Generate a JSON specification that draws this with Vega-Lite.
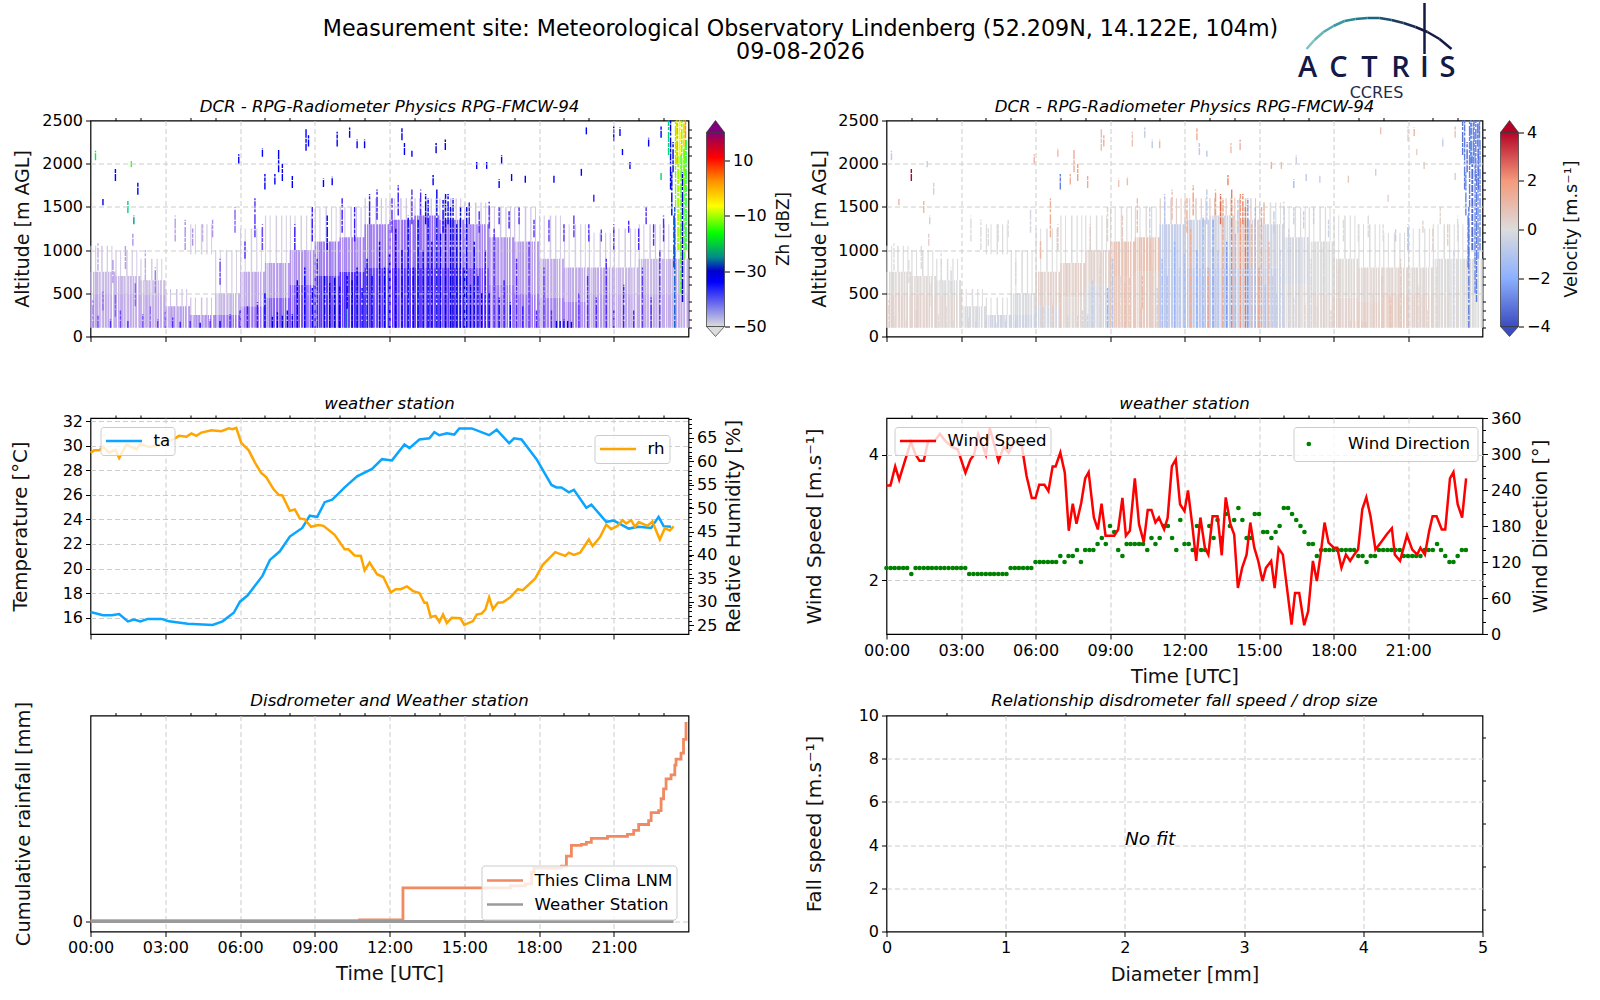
{
"$schema":"https://vega.github.io/schema/vega-lite/v6.json",
"background":"white",
"padding":{"left":9.5,"top":0,"right":10,"bottom":10},
"config":{"view":{"stroke":"black","strokeWidth":1.2},
"font":"DejaVu Sans",
"axis":{"labelFont":"DejaVu Sans","titleFont":"DejaVu Sans","labelFontSize":16,"titleFontSize":19,"titleFontWeight":"normal","labelColor":"black","titleColor":"#111111","tickColor":"black","tickSize":5,"domain":false,"grid":false,"gridColor":"#cccccc","gridDash":[5,3],"gridWidth":1,"labelFlush":false,"labelOverlap":false,"labelBound":false,"labelPadding":3,"format":"d"},
"title":{"font":"DejaVu Sans","fontSize":16.6,"fontStyle":"italic","fontWeight":"normal","color":"black"},
"legend":{"orient":"none","fillColor":"rgba(255,255,255,0.8)","strokeColor":"#cccccc","cornerRadius":3,"padding":4,"labelFont":"DejaVu Sans","labelFontSize":16.6,"labelColor":"black","symbolType":"stroke","symbolStrokeWidth":2.5,"symbolSize":1300,"clipHeight":20,"title":null,"labelOffset":10}},
"datasets":{
"base":[
{"t":0,"u":1,"m":300,"h":400,"z":-46,"v":0.3},{"t":0,"u":1,"m":625,"h":250,"z":-47,"v":0.1},{"t":0,"u":1,"m":900,"h":300,"z":-48.5,"v":0},
{"t":1,"u":2,"m":300,"h":400,"z":-46,"v":0.3},{"t":1,"u":2,"m":600,"h":200,"z":-47,"v":0.1},{"t":1,"u":2,"m":850,"h":300,"z":-48.5,"v":0},
{"t":2,"u":3,"m":290,"h":380,"z":-46,"v":0.2},{"t":2,"u":3,"m":565,"h":170,"z":-47.5,"v":0},{"t":2,"u":3,"m":775,"h":250,"z":-49,"v":0},
{"t":3,"u":4,"m":225,"h":250,"z":-45,"v":-0.1},{"t":3,"u":4,"m":450,"h":200,"z":-48,"v":0},
{"t":4,"u":5,"m":175,"h":150,"z":-44,"v":-0.3},{"t":4,"u":5,"m":350,"h":200,"z":-48,"v":0},{"t":4,"u":5,"m":1125,"h":350,"z":-49,"v":0},
{"t":5,"u":6,"m":175,"h":150,"z":-42,"v":-0.4},{"t":5,"u":6,"m":375,"h":250,"z":-47,"v":-0.1},{"t":5,"u":6,"m":750,"h":500,"z":-49,"v":0},
{"t":6,"u":7,"m":225,"h":250,"z":-42,"v":-0.2},{"t":6,"u":7,"m":550,"h":400,"z":-46,"v":0.3},{"t":6,"u":7,"m":1000,"h":500,"z":-49,"v":0},
{"t":7,"u":8,"m":275,"h":350,"z":-40,"v":0.2},{"t":7,"u":8,"m":650,"h":400,"z":-45,"v":0.4},{"t":7,"u":8,"m":1125,"h":550,"z":-49,"v":0},
{"t":8,"u":9,"m":350,"h":500,"z":-39,"v":-0.2},{"t":8,"u":9,"m":800,"h":400,"z":-44,"v":0.3},{"t":8,"u":9,"m":1200,"h":400,"z":-49,"v":0},
{"t":9,"u":10,"m":400,"h":600,"z":-37,"v":0.6},{"t":9,"u":10,"m":900,"h":400,"z":-42,"v":0.7},{"t":9,"u":10,"m":1300,"h":400,"z":-49,"v":0},
{"t":10,"u":11,"m":425,"h":650,"z":-36,"v":0.5},{"t":10,"u":11,"m":950,"h":400,"z":-43,"v":0.8},{"t":10,"u":11,"m":1325,"h":350,"z":-48,"v":0},
{"t":11,"u":12,"m":450,"h":700,"z":-37,"v":-0.8},{"t":11,"u":12,"m":1050,"h":500,"z":-42,"v":-0.7},{"t":11,"u":12,"m":1450,"h":300,"z":-48,"v":0.4},
{"t":12,"u":13,"m":450,"h":700,"z":-37,"v":-0.9},{"t":12,"u":13,"m":1075,"h":550,"z":-41,"v":-0.5},{"t":12,"u":13,"m":1475,"h":250,"z":-48,"v":0.5},
{"t":13,"u":14,"m":450,"h":700,"z":-37,"v":-0.7},{"t":13,"u":14,"m":1100,"h":600,"z":-41,"v":-0.3},{"t":13,"u":14,"m":1500,"h":200,"z":-48,"v":0.6},
{"t":14,"u":15,"m":450,"h":700,"z":-37,"v":-0.5},{"t":14,"u":15,"m":1075,"h":550,"z":-42,"v":0.3},{"t":14,"u":15,"m":1475,"h":250,"z":-48,"v":0.8},
{"t":15,"u":16,"m":450,"h":700,"z":-39,"v":-0.5},{"t":15,"u":16,"m":1050,"h":500,"z":-43,"v":-0.3},{"t":15,"u":16,"m":1425,"h":250,"z":-48,"v":0},
{"t":16,"u":17,"m":350,"h":500,"z":-42,"v":0.1},{"t":16,"u":17,"m":875,"h":550,"z":-44,"v":-0.2},{"t":16,"u":17,"m":1325,"h":350,"z":-48,"v":0},
{"t":17,"u":18,"m":300,"h":400,"z":-42,"v":0.2},{"t":17,"u":18,"m":800,"h":600,"z":-45,"v":0},{"t":17,"u":18,"m":1300,"h":400,"z":-48,"v":0},
{"t":18,"u":19,"m":275,"h":350,"z":-43,"v":0.3},{"t":18,"u":19,"m":675,"h":450,"z":-46,"v":0.1},{"t":18,"u":19,"m":1150,"h":500,"z":-48.5,"v":0},
{"t":19,"u":20,"m":250,"h":300,"z":-43,"v":0.4},{"t":19,"u":20,"m":600,"h":400,"z":-46,"v":0.2},{"t":19,"u":20,"m":1050,"h":500,"z":-49,"v":0},
{"t":20,"u":21,"m":300,"h":400,"z":-45,"v":0.5},{"t":20,"u":21,"m":650,"h":300,"z":-46,"v":0.2},{"t":20,"u":21,"m":1000,"h":400,"z":-48.5,"v":0},
{"t":21,"u":22,"m":300,"h":400,"z":-46,"v":0.3},{"t":21,"u":22,"m":650,"h":300,"z":-47,"v":0.1},{"t":21,"u":22,"m":1025,"h":450,"z":-48.5,"v":0},
{"t":22,"u":23,"m":300,"h":400,"z":-46,"v":0.1},{"t":22,"u":23,"m":700,"h":400,"z":-47,"v":0},{"t":22,"u":23,"m":1100,"h":400,"z":-48.5,"v":0},
{"t":23,"u":24,"m":300,"h":400,"z":-46,"v":0},{"t":23,"u":24,"m":700,"h":400,"z":-47,"v":0},{"t":23,"u":24,"m":1100,"h":400,"z":-48.5,"v":0}
],
"radar":[
{"t":0.1,"a":100,"b":420,"z":-42,"v":0.4},{"t":0.3,"a":100,"b":250,"z":-38,"v":0.2},{"t":0.5,"a":300,"b":520,"z":-41,"v":0.3},{"t":0.8,"a":100,"b":200,"z":-36,"v":0.3},{"t":1,"a":230,"b":480,"z":-40,"v":0.2},{"t":1.2,"a":100,"b":300,"z":-38,"v":0.3},{"t":1.5,"a":100,"b":180,"z":-36,"v":0.2},{"t":1.8,"a":350,"b":620,"z":-40,"v":0.2},{"t":2.1,"a":100,"b":260,"z":-38,"v":0.1},{"t":2.4,"a":100,"b":350,"z":-41,"v":0.1},{"t":2.7,"a":100,"b":200,"z":-37,"v":0},{"t":3,"a":100,"b":280,"z":-39,"v":-0.1},{"t":3.3,"a":100,"b":220,"z":-36,"v":-0.2},{"t":3.6,"a":100,"b":170,"z":-35,"v":-0.4},{"t":4,"a":100,"b":180,"z":-36,"v":-0.5},{"t":4.4,"a":100,"b":160,"z":-34,"v":-0.5},{"t":4.8,"a":100,"b":200,"z":-36,"v":-0.5},{"t":5.2,"a":100,"b":180,"z":-34,"v":-0.6},{"t":5.6,"a":100,"b":260,"z":-36,"v":-0.4},{"t":6,"a":100,"b":300,"z":-36,"v":-0.3},{"t":6.3,"a":100,"b":350,"z":-35,"v":0.5},{"t":6.7,"a":100,"b":400,"z":-35,"v":0.6},{"t":7,"a":100,"b":500,"z":-34,"v":0.7},
{"t":0.3,"a":760,"b":1080,"z":-46,"v":0},{"t":0.9,"a":620,"b":900,"z":-44,"v":0},{"t":1.4,"a":780,"b":1050,"z":-45,"v":0},{"t":1.7,"a":1050,"b":1200,"z":-44,"v":0.3},{"t":2.2,"a":640,"b":1000,"z":-46,"v":0},{"t":2.6,"a":500,"b":800,"z":-42,"v":-0.2},{"t":3.4,"a":1100,"b":1400,"z":-45,"v":0},{"t":3.8,"a":1000,"b":1350,"z":-44,"v":0},{"t":4.1,"a":1050,"b":1250,"z":-44,"v":0},{"t":4.5,"a":1100,"b":1300,"z":-46,"v":0},{"t":4.9,"a":1150,"b":1350,"z":-44,"v":0},{"t":5.2,"a":600,"b":900,"z":-38,"v":0.2},{"t":5.8,"a":1200,"b":1500,"z":-40,"v":-0.2},{"t":6.2,"a":900,"b":1100,"z":-36,"v":1.2},{"t":6.6,"a":1150,"b":1600,"z":-36,"v":1.4},{"t":6.9,"a":1000,"b":1300,"z":-38,"v":0.8},
{"t":0.2,"a":2040,"b":2150,"z":-18,"v":-0.8},{"t":1.64,"a":1960,"b":2030,"z":-16,"v":-0.6},{"t":0.5,"a":1520,"b":1590,"z":-32,"v":1.2},{"t":1.5,"a":1430,"b":1570,"z":-20,"v":1.1},{"t":1.74,"a":1300,"b":1400,"z":-24,"v":-0.5},{"t":1.9,"a":1640,"b":1780,"z":-33,"v":-0.4},{"t":1,"a":1800,"b":1950,"z":-33,"v":4},{"t":8.65,"a":2150,"b":2400,"z":-34,"v":0.9},{"t":8.75,"a":2200,"b":2330,"z":-34,"v":1.4},{"t":9.9,"a":2200,"b":2370,"z":-33,"v":0.8},{"t":10.4,"a":2300,"b":2420,"z":-33,"v":-0.7},{"t":6.9,"a":2080,"b":2180,"z":-34,"v":1.1},{"t":5.95,"a":2000,"b":2110,"z":-34,"v":1.2},{"t":7.55,"a":1900,"b":2160,"z":-33,"v":1.5},{"t":7.7,"a":1800,"b":2000,"z":-33,"v":1.8},{"t":7,"a":1700,"b":1880,"z":-33,"v":-3},{"t":7.4,"a":1760,"b":1880,"z":-33,"v":1.4},{"t":8.1,"a":1720,"b":1870,"z":-33,"v":1.6},{"t":9.35,"a":1730,"b":1830,"z":-33,"v":0.7},{"t":9.7,"a":1750,"b":1850,"z":-33,"v":1},{"t":10.7,"a":2180,"b":2280,"z":-34,"v":-0.8},{"t":11,"a":2180,"b":2280,"z":-34,"v":1.2},{"t":12.5,"a":2270,"b":2420,"z":-33,"v":1.5},{"t":12.6,"a":2100,"b":2240,"z":-33,"v":-0.9},{"t":12.9,"a":2080,"b":2150,"z":-34,"v":-1},{"t":13.87,"a":2120,"b":2240,"z":-30,"v":1},{"t":14.24,"a":2160,"b":2280,"z":-33,"v":1.3},{"t":13.75,"a":1750,"b":1870,"z":-33,"v":2.4},{"t":16.5,"a":2000,"b":2100,"z":-34,"v":-0.6},{"t":15.5,"a":1940,"b":2020,"z":-34,"v":1.6},{"t":15.9,"a":1940,"b":2020,"z":-34,"v":1},{"t":19.9,"a":2340,"b":2420,"z":-34,"v":0.8},{"t":21,"a":2260,"b":2430,"z":-33,"v":0.4},{"t":21.25,"a":2320,"b":2420,"z":-34,"v":1.2},{"t":21.35,"a":2100,"b":2170,"z":-34,"v":0.4},{"t":22.4,"a":2200,"b":2300,"z":-33,"v":-0.7},{"t":22.9,"a":2300,"b":2430,"z":-34,"v":0.8},{"t":21.65,"a":1940,"b":2020,"z":-34,"v":0.5},{"t":22.9,"a":1810,"b":1900,"z":-20,"v":-0.5},{"t":16.9,"a":1800,"b":1880,"z":-34,"v":-0.8},{"t":17.45,"a":1780,"b":1870,"z":-34,"v":-0.6},{"t":16.4,"a":1720,"b":1820,"z":-34,"v":-1.5},{"t":20.2,"a":1560,"b":1650,"z":-35,"v":0.3},{"t":18.6,"a":1780,"b":1870,"z":-34,"v":0.6},{"t":19.7,"a":1860,"b":1940,"z":-34,"v":-0.5},
{"t":7.3,"a":100,"b":230,"z":-31,"v":-0.3},{"t":7.5,"a":100,"b":280,"z":-31,"v":0.1},{"t":7.7,"a":100,"b":250,"z":-31,"v":0.3},{"t":7.9,"a":100,"b":300,"z":-32,"v":-0.2},{"t":8.1,"a":100,"b":260,"z":-32,"v":-0.4},
{"t":8.3,"a":100,"b":650,"z":-33,"v":-0.6},{"t":8.6,"a":100,"b":800,"z":-34,"v":0.4},{"t":8.9,"a":100,"b":560,"z":-33,"v":-1.8},{"t":9.1,"a":100,"b":900,"z":-35,"v":-1},{"t":9.4,"a":100,"b":700,"z":-33,"v":0.3},
{"t":9.6,"a":100,"b":620,"z":-31,"v":0.9},{"t":9.8,"a":100,"b":680,"z":-31,"v":0.7},{"t":10,"a":100,"b":580,"z":-30,"v":0.6},{"t":10.25,"a":100,"b":320,"z":-25,"v":1},{"t":10.3,"a":320,"b":700,"z":-32,"v":1},{"t":10.5,"a":100,"b":650,"z":-31,"v":0.4},{"t":10.7,"a":100,"b":800,"z":-32,"v":0.5},{"t":10.9,"a":100,"b":560,"z":-33,"v":-0.5},
{"t":11.1,"a":100,"b":900,"z":-34,"v":-1.5},{"t":11.3,"a":100,"b":700,"z":-33,"v":-1.2},{"t":11.6,"a":100,"b":1100,"z":-33,"v":-1.8},{"t":11.8,"a":100,"b":800,"z":-34,"v":-0.8},{"t":12,"a":100,"b":950,"z":-33,"v":-1.5},{"t":12.25,"a":100,"b":1250,"z":-34,"v":1.4},{"t":12.5,"a":100,"b":1000,"z":-33,"v":-2},{"t":12.75,"a":100,"b":1400,"z":-34,"v":-1.6},{"t":12.95,"a":100,"b":800,"z":-32,"v":1.8},{"t":13.15,"a":100,"b":1350,"z":-33,"v":-2.2},{"t":13.35,"a":100,"b":1000,"z":-33,"v":-1},{"t":13.55,"a":100,"b":1600,"z":-33,"v":1.8},{"t":13.7,"a":100,"b":1100,"z":-32,"v":-2.4},{"t":13.9,"a":100,"b":1700,"z":-32,"v":2.4},{"t":14.05,"a":100,"b":1200,"z":-33,"v":-1.5},{"t":14.25,"a":100,"b":1650,"z":-33,"v":2},{"t":14.45,"a":100,"b":1500,"z":-31,"v":2.6},{"t":14.55,"a":100,"b":1600,"z":-31,"v":-2.5},{"t":14.7,"a":100,"b":1300,"z":-32,"v":1.2},{"t":14.85,"a":100,"b":1500,"z":-31,"v":-1.5},{"t":15,"a":100,"b":800,"z":-31,"v":2},{"t":15.1,"a":100,"b":1500,"z":-32,"v":1.6},{"t":15.25,"a":100,"b":600,"z":-31,"v":-1.3},{"t":15.4,"a":100,"b":1100,"z":-33,"v":1.2},{"t":15.55,"a":100,"b":700,"z":-33,"v":-0.6},{"t":15.7,"a":100,"b":500,"z":-33,"v":-0.6},{"t":15.85,"a":100,"b":1000,"z":-35,"v":-0.5},{"t":16,"a":100,"b":500,"z":-34,"v":-0.4},{"t":16.2,"a":100,"b":1250,"z":-36,"v":-0.4},{"t":16.4,"a":100,"b":450,"z":-34,"v":-0.3},{"t":16.6,"a":100,"b":650,"z":-35,"v":-0.3},{"t":16.85,"a":100,"b":400,"z":-34,"v":0.2},{"t":17.1,"a":100,"b":900,"z":-36,"v":-0.3},{"t":17.35,"a":100,"b":350,"z":-35,"v":0.2},{"t":17.6,"a":100,"b":1100,"z":-37,"v":-0.3},{"t":17.9,"a":100,"b":300,"z":-36,"v":0.3},{"t":18.2,"a":100,"b":800,"z":-37,"v":0.3},{"t":18.5,"a":100,"b":300,"z":-36,"v":0.3},{"t":18.7,"a":100,"b":180,"z":-32,"v":0.4},{"t":18.85,"a":100,"b":180,"z":-32,"v":0.4},{"t":19,"a":100,"b":200,"z":-32,"v":0.5},{"t":19.15,"a":100,"b":180,"z":-33,"v":0.5},{"t":19.3,"a":100,"b":170,"z":-33,"v":0.5},{"t":19.6,"a":100,"b":500,"z":-37,"v":0.5},{"t":19.95,"a":100,"b":700,"z":-36,"v":0.6},{"t":20.3,"a":100,"b":450,"z":-36,"v":0.7},{"t":20.7,"a":100,"b":900,"z":-36,"v":0.5},{"t":21,"a":100,"b":300,"z":-36,"v":0.3},{"t":21.4,"a":100,"b":600,"z":-35,"v":0.3},{"t":21.8,"a":100,"b":300,"z":-36,"v":0.2},{"t":22.15,"a":100,"b":800,"z":-37,"v":0.2},{"t":22.5,"a":100,"b":450,"z":-36,"v":0.1},{"t":22.85,"a":100,"b":1000,"z":-36,"v":-0.4},
{"t":8.2,"a":1000,"b":1300,"z":-35,"v":0.5},{"t":8.9,"a":1100,"b":1500,"z":-35,"v":0.4},{"t":9.5,"a":1000,"b":1400,"z":-34,"v":0.6},{"t":10.1,"a":1200,"b":1600,"z":-35,"v":0.9},{"t":10.6,"a":1100,"b":1500,"z":-35,"v":-0.4},{"t":11.2,"a":1300,"b":1650,"z":-35,"v":-1},{"t":11.5,"a":1350,"b":1700,"z":-35,"v":0.9},{"t":12.1,"a":1200,"b":1600,"z":-36,"v":1.4},{"t":12.35,"a":1400,"b":1750,"z":-35,"v":1.8},{"t":12.9,"a":1300,"b":1700,"z":-36,"v":-0.8},{"t":13.25,"a":1400,"b":1700,"z":-36,"v":1.9},{"t":13.45,"a":1300,"b":1650,"z":-34,"v":2.8},{"t":14.15,"a":1200,"b":1580,"z":-34,"v":-0.9},{"t":14.35,"a":1300,"b":1650,"z":-33,"v":2.4},{"t":15.2,"a":1300,"b":1550,"z":-35,"v":1},{"t":15.6,"a":1200,"b":1450,"z":-36,"v":-0.7},{"t":16,"a":1250,"b":1560,"z":-36,"v":-0.5},{"t":16.4,"a":1300,"b":1500,"z":-36,"v":-0.5},{"t":16.8,"a":1250,"b":1450,"z":-35,"v":-0.6},{"t":17.2,"a":1300,"b":1500,"z":-36,"v":-0.5},{"t":17.8,"a":1150,"b":1350,"z":-36,"v":-0.4},{"t":18.4,"a":1100,"b":1350,"z":-37,"v":0},{"t":19,"a":1100,"b":1300,"z":-37,"v":0},{"t":19.4,"a":1150,"b":1400,"z":-37,"v":0},{"t":20,"a":1100,"b":1300,"z":-36,"v":0},{"t":20.5,"a":1100,"b":1250,"z":-37,"v":-0.7},{"t":21,"a":1000,"b":1300,"z":-36,"v":-1.5},{"t":21.6,"a":1200,"b":1350,"z":-36,"v":0.3},{"t":22,"a":1000,"b":1250,"z":-36,"v":0.3},{"t":22.3,"a":1300,"b":1500,"z":-36,"v":0.2},{"t":22.6,"a":1050,"b":1300,"z":-36,"v":0.4},{"t":23,"a":1100,"b":1400,"z":-36,"v":0},
{"t":23.2,"a":2100,"b":2500,"z":-20,"v":-3.2},{"t":23.28,"a":1700,"b":2500,"z":-32,"v":-3},{"t":23.33,"a":1400,"b":1900,"z":-32,"v":-2.8},{"t":23.38,"a":1900,"b":2250,"z":-31,"v":-3.4},{"t":23.42,"a":800,"b":1400,"z":-30,"v":-3},{"t":23.45,"a":100,"b":1500,"z":-28,"v":-3.2},{"t":23.48,"a":1500,"b":2500,"z":-14,"v":-3},{"t":23.52,"a":2000,"b":2500,"z":-10,"v":-2.6},{"t":23.55,"a":2000,"b":2500,"z":0,"v":-2.8},{"t":23.58,"a":1000,"b":2100,"z":-14,"v":-3},{"t":23.6,"a":1000,"b":2000,"z":-12,"v":-3.4},{"t":23.63,"a":2000,"b":2500,"z":-8,"v":-2.8},{"t":23.66,"a":2100,"b":2500,"z":-6,"v":-3},{"t":23.7,"a":500,"b":2100,"z":-16,"v":-2.7},{"t":23.73,"a":1800,"b":2500,"z":-14,"v":-3},{"t":23.76,"a":400,"b":1900,"z":-31,"v":-3},{"t":23.8,"a":2200,"b":2500,"z":-4,"v":-2.9},{"t":23.82,"a":900,"b":2200,"z":-16,"v":-2.7},{"t":23.84,"a":1700,"b":2200,"z":-14,"v":-3.2},{"t":23.86,"a":2200,"b":2500,"z":-2,"v":-3},{"t":23.88,"a":2300,"b":2500,"z":2,"v":-3},{"t":23.9,"a":1000,"b":2300,"z":-17,"v":-2.8}
],
"met":[
{"t":0,"ta":16.46},{"t":0.5,"ta":16.2},{"t":0.85,"ta":16.2},{"t":1.15,"ta":16.3},{"t":1.5,"ta":15.7},{"t":1.75,"ta":15.85},{"t":2,"ta":15.7},{"t":2.3,"ta":15.9},{"t":2.85,"ta":15.9},{"t":3.15,"ta":15.7},{"t":3.9,"ta":15.5},{"t":4.9,"ta":15.4},{"t":5.3,"ta":15.7},{"t":5.75,"ta":16.4},{"t":6,"ta":17.3},{"t":6.3,"ta":17.8},{"t":6.6,"ta":18.6},{"t":6.9,"ta":19.4},{"t":7.2,"ta":20.7},{"t":7.6,"ta":21.4},{"t":8,"ta":22.6},{"t":8.5,"ta":23.3},{"t":8.8,"ta":24.3},{"t":9.1,"ta":24.2},{"t":9.4,"ta":25.4},{"t":9.7,"ta":25.6},{"t":9.9,"ta":26},{"t":10.2,"ta":26.6},{"t":10.7,"ta":27.5},{"t":11.3,"ta":28.1},{"t":11.7,"ta":28.9},{"t":12.1,"ta":28.8},{"t":12.6,"ta":30.1},{"t":12.8,"ta":29.8},{"t":13.2,"ta":30.5},{"t":13.6,"ta":30.6},{"t":13.8,"ta":31.1},{"t":14,"ta":30.85},{"t":14.3,"ta":31},{"t":14.6,"ta":30.9},{"t":14.8,"ta":31.4},{"t":15.3,"ta":31.4},{"t":16,"ta":30.85},{"t":16.3,"ta":31.3},{"t":16.8,"ta":30.2},{"t":17,"ta":30.6},{"t":17.3,"ta":30.5},{"t":17.9,"ta":28.9},{"t":18.5,"ta":26.8},{"t":18.7,"ta":26.6},{"t":18.9,"ta":26.6},{"t":19.2,"ta":26.2},{"t":19.4,"ta":26.4},{"t":19.9,"ta":24.95},{"t":20.1,"ta":25.2},{"t":20.7,"ta":23.8},{"t":21,"ta":23.9},{"t":21.6,"ta":23.25},{"t":22,"ta":23.4},{"t":22.5,"ta":23.3},{"t":22.8,"ta":24.2},{"t":23,"ta":23.45},{"t":23.3,"ta":23.4}
],
"hum":[
{"t":0,"rh":61.8},{"t":0.15,"rh":62.3},{"t":0.35,"rh":62.3},{"t":0.5,"rh":63.1},{"t":0.75,"rh":61.8},{"t":1,"rh":62.4},{"t":1.15,"rh":60.7},{"t":1.45,"rh":63.6},{"t":1.6,"rh":63.1},{"t":1.85,"rh":62.5},{"t":2,"rh":63.7},{"t":2.35,"rh":63},{"t":2.75,"rh":63.4},{"t":3.05,"rh":64.4},{"t":3.25,"rh":64.4},{"t":3.55,"rh":65.4},{"t":3.85,"rh":65.2},{"t":4.05,"rh":65.9},{"t":4.25,"rh":65.4},{"t":4.45,"rh":66.1},{"t":4.85,"rh":66.6},{"t":5.25,"rh":66.4},{"t":5.55,"rh":67},{"t":5.7,"rh":66.8},{"t":5.85,"rh":67.1},{"t":6.05,"rh":63.9},{"t":6.35,"rh":62.3},{"t":6.6,"rh":59.7},{"t":6.85,"rh":57.5},{"t":7.05,"rh":56.6},{"t":7.35,"rh":54},{"t":7.55,"rh":52.8},{"t":7.7,"rh":52.7},{"t":8,"rh":49.4},{"t":8.2,"rh":49.7},{"t":8.4,"rh":47.8},{"t":8.6,"rh":47.6},{"t":8.85,"rh":46},{"t":9.15,"rh":46.4},{"t":9.35,"rh":46.2},{"t":9.8,"rh":44.3},{"t":10.2,"rh":41.2},{"t":10.35,"rh":41.2},{"t":10.6,"rh":39.9},{"t":10.85,"rh":39.8},{"t":11,"rh":36.7},{"t":11.2,"rh":38.4},{"t":11.5,"rh":35.9},{"t":11.75,"rh":35.3},{"t":12.05,"rh":32},{"t":12.25,"rh":32.7},{"t":12.45,"rh":32.7},{"t":12.7,"rh":33.3},{"t":12.95,"rh":32.3},{"t":13.2,"rh":31.9},{"t":13.4,"rh":29.8},{"t":13.5,"rh":29.8},{"t":13.65,"rh":26.8},{"t":13.85,"rh":27},{"t":14,"rh":25.7},{"t":14.15,"rh":27.3},{"t":14.3,"rh":25.5},{"t":14.5,"rh":26.6},{"t":14.85,"rh":26.5},{"t":15,"rh":25.1},{"t":15.35,"rh":25.9},{"t":15.5,"rh":27.3},{"t":15.7,"rh":27.5},{"t":15.85,"rh":28.4},{"t":16,"rh":31},{"t":16.15,"rh":28.4},{"t":16.35,"rh":29.8},{"t":16.55,"rh":29.9},{"t":16.85,"rh":31},{"t":17.15,"rh":32.7},{"t":17.35,"rh":32.5},{"t":17.85,"rh":35},{"t":18.15,"rh":37.9},{"t":18.65,"rh":40.6},{"t":19.05,"rh":39.8},{"t":19.2,"rh":40.5},{"t":19.4,"rh":40},{"t":19.65,"rh":40.5},{"t":20,"rh":43.3},{"t":20.15,"rh":41.9},{"t":20.45,"rh":43.8},{"t":20.7,"rh":46.5},{"t":20.9,"rh":45.5},{"t":21.15,"rh":46.2},{"t":21.35,"rh":47.4},{"t":21.5,"rh":46.7},{"t":21.7,"rh":47.4},{"t":21.85,"rh":46},{"t":22,"rh":47},{"t":22.35,"rh":46.2},{"t":22.55,"rh":47.1},{"t":22.85,"rh":43.3},{"t":23.05,"rh":45.7},{"t":23.25,"rh":45.2},{"t":23.4,"rh":46.1}
],
"ws":[
{"t":0,"s":3.51},{"t":0.16,"s":3.51},{"t":0.35,"s":3.81},{"t":0.51,"s":3.6},{"t":0.72,"s":3.87},{"t":0.98,"s":4.2},{"t":1.17,"s":4},{"t":1.33,"s":3.9},{"t":1.5,"s":3.9},{"t":1.68,"s":4.22},{"t":1.95,"s":4.22},{"t":2.15,"s":4.33},{"t":2.36,"s":4.22},{"t":2.63,"s":4.12},{"t":2.87,"s":4.08},{"t":3.18,"s":3.71},{"t":3.38,"s":3.92},{"t":3.53,"s":4},{"t":3.69,"s":4.32},{"t":4,"s":4},{"t":4.16,"s":4.42},{"t":4.51,"s":3.9},{"t":4.72,"s":4.12},{"t":4.92,"s":4.03},{"t":5.13,"s":4.21},{"t":5.44,"s":4.16},{"t":5.64,"s":3.66},{"t":5.85,"s":3.31},{"t":6,"s":3.31},{"t":6.15,"s":3.52},{"t":6.36,"s":3.52},{"t":6.52,"s":3.42},{"t":6.69,"s":3.81},{"t":6.81,"s":3.81},{"t":7,"s":4.03},{"t":7.18,"s":3.71},{"t":7.34,"s":2.79},{"t":7.5,"s":3.22},{"t":7.65,"s":2.9},{"t":7.84,"s":3.23},{"t":8,"s":3.62},{"t":8.14,"s":3.72},{"t":8.35,"s":3},{"t":8.51,"s":2.81},{"t":8.66,"s":3.22},{"t":8.82,"s":2.71},{"t":9.17,"s":2.71},{"t":9.33,"s":2.81},{"t":9.5,"s":3.31},{"t":9.64,"s":2.71},{"t":9.8,"s":2.79},{"t":10,"s":3.62},{"t":10.17,"s":2.89},{"t":10.36,"s":2.61},{"t":10.52,"s":3.12},{"t":10.67,"s":3.12},{"t":10.83,"s":2.92},{"t":10.97,"s":3},{"t":11.18,"s":2.81},{"t":11.32,"s":2.99},{"t":11.49,"s":3.81},{"t":11.65,"s":3.92},{"t":11.82,"s":3.21},{"t":12,"s":3.1},{"t":12.14,"s":3.43},{"t":12.31,"s":2.89},{"t":12.47,"s":2.31},{"t":12.64,"s":3},{"t":12.82,"s":2.52},{"t":12.96,"s":2.41},{"t":13.13,"s":3.02},{"t":13.33,"s":3.02},{"t":13.5,"s":2.4},{"t":13.66,"s":3.32},{"t":13.85,"s":2.89},{"t":14,"s":2.73},{"t":14.15,"s":1.88},{"t":14.32,"s":2.2},{"t":14.5,"s":2.41},{"t":14.65,"s":2.92},{"t":14.81,"s":2.52},{"t":14.97,"s":2.31},{"t":15.14,"s":1.99},{"t":15.28,"s":2.2},{"t":15.49,"s":2.31},{"t":15.63,"s":1.88},{"t":15.79,"s":2.51},{"t":15.96,"s":2.41},{"t":16.31,"s":1.3},{"t":16.45,"s":1.8},{"t":16.62,"s":1.8},{"t":16.82,"s":1.29},{"t":16.98,"s":1.51},{"t":17.17,"s":2.31},{"t":17.33,"s":1.99},{"t":17.48,"s":2.41},{"t":17.64,"s":2.92},{"t":17.8,"s":2.6},{"t":18.01,"s":2.52},{"t":18.15,"s":2.52},{"t":18.32,"s":2.2},{"t":18.5,"s":2.41},{"t":18.67,"s":2.31},{"t":18.83,"s":2.41},{"t":18.99,"s":2.49},{"t":19.16,"s":3.13},{"t":19.32,"s":3.32},{"t":19.49,"s":3.02},{"t":19.69,"s":2.49},{"t":19.9,"s":2.6},{"t":20.14,"s":2.73},{"t":20.35,"s":2.83},{"t":20.47,"s":2.41},{"t":20.68,"s":2.31},{"t":20.96,"s":2.72},{"t":21.17,"s":2.49},{"t":21.37,"s":2.41},{"t":21.5,"s":2.52},{"t":21.68,"s":2.41},{"t":21.85,"s":2.78},{"t":21.99,"s":3.02},{"t":22.15,"s":3.02},{"t":22.36,"s":2.81},{"t":22.5,"s":2.81},{"t":22.69,"s":3.62},{"t":22.83,"s":3.72},{"t":23,"s":3.21},{"t":23.18,"s":3},{"t":23.34,"s":3.62}
],
"wd":[
{"t":0,"d":110},{"t":0.17,"d":110},{"t":0.33,"d":110},{"t":0.5,"d":110},{"t":0.67,"d":110},{"t":0.83,"d":110},{"t":1,"d":100},{"t":1.17,"d":110},{"t":1.33,"d":110},{"t":1.5,"d":110},{"t":1.67,"d":110},{"t":1.83,"d":110},{"t":2,"d":110},{"t":2.17,"d":110},{"t":2.33,"d":110},{"t":2.5,"d":110},{"t":2.67,"d":110},{"t":2.83,"d":110},{"t":3,"d":110},{"t":3.17,"d":110},{"t":3.33,"d":100},{"t":3.5,"d":100},{"t":3.67,"d":100},{"t":3.83,"d":100},{"t":4,"d":100},{"t":4.17,"d":100},{"t":4.33,"d":100},{"t":4.5,"d":100},{"t":4.67,"d":100},{"t":4.83,"d":100},{"t":5,"d":110},{"t":5.17,"d":110},{"t":5.33,"d":110},{"t":5.5,"d":110},{"t":5.67,"d":110},{"t":5.83,"d":110},{"t":6,"d":120},{"t":6.17,"d":120},{"t":6.33,"d":120},{"t":6.5,"d":120},{"t":6.67,"d":120},{"t":6.83,"d":120},{"t":7,"d":130},{"t":7.17,"d":120},{"t":7.33,"d":130},{"t":7.5,"d":130},{"t":7.67,"d":140},{"t":7.83,"d":120},{"t":8,"d":140},{"t":8.17,"d":140},{"t":8.33,"d":140},{"t":8.5,"d":150},{"t":8.67,"d":160},{"t":8.83,"d":150},{"t":9,"d":180},{"t":9.17,"d":170},{"t":9.33,"d":140},{"t":9.5,"d":130},{"t":9.67,"d":150},{"t":9.83,"d":150},{"t":10,"d":150},{"t":10.17,"d":150},{"t":10.33,"d":150},{"t":10.5,"d":140},{"t":10.67,"d":160},{"t":10.83,"d":150},{"t":11,"d":160},{"t":11.17,"d":180},{"t":11.33,"d":180},{"t":11.5,"d":160},{"t":11.67,"d":140},{"t":11.83,"d":190},{"t":12,"d":150},{"t":12.17,"d":150},{"t":12.33,"d":140},{"t":12.5,"d":180},{"t":12.67,"d":140},{"t":12.83,"d":140},{"t":13,"d":180},{"t":13.17,"d":160},{"t":13.33,"d":190},{"t":13.5,"d":160},{"t":13.67,"d":200},{"t":13.83,"d":180},{"t":14,"d":190},{"t":14.17,"d":210},{"t":14.33,"d":190},{"t":14.5,"d":160},{"t":14.67,"d":160},{"t":14.83,"d":200},{"t":15,"d":200},{"t":15.17,"d":170},{"t":15.33,"d":170},{"t":15.5,"d":160},{"t":15.67,"d":170},{"t":15.83,"d":180},{"t":16,"d":210},{"t":16.17,"d":210},{"t":16.33,"d":200},{"t":16.5,"d":190},{"t":16.67,"d":180},{"t":16.83,"d":170},{"t":17,"d":150},{"t":17.17,"d":150},{"t":17.33,"d":130},{"t":17.5,"d":140},{"t":17.67,"d":140},{"t":17.83,"d":140},{"t":18,"d":140},{"t":18.17,"d":140},{"t":18.33,"d":140},{"t":18.5,"d":140},{"t":18.67,"d":140},{"t":18.83,"d":140},{"t":19,"d":130},{"t":19.17,"d":130},{"t":19.33,"d":120},{"t":19.5,"d":130},{"t":19.67,"d":130},{"t":19.83,"d":140},{"t":20,"d":140},{"t":20.17,"d":140},{"t":20.33,"d":140},{"t":20.5,"d":140},{"t":20.67,"d":140},{"t":20.83,"d":130},{"t":21,"d":130},{"t":21.17,"d":130},{"t":21.33,"d":130},{"t":21.5,"d":130},{"t":21.67,"d":140},{"t":21.83,"d":140},{"t":22,"d":140},{"t":22.17,"d":150},{"t":22.33,"d":140},{"t":22.5,"d":130},{"t":22.67,"d":120},{"t":22.83,"d":120},{"t":23,"d":130},{"t":23.17,"d":140},{"t":23.33,"d":140}
],
"rain":[
{"t":0,"r":0.005},{"t":10.8,"r":0.008},{"t":12.54,"r":0.17},{"t":15.7,"r":0.17},{"t":16.85,"r":0.18},{"t":17.45,"r":0.19},{"t":17.7,"r":0.25},{"t":17.8,"r":0.27},{"t":18.9,"r":0.28},{"t":19.1,"r":0.33},{"t":19.3,"r":0.385},{"t":19.7,"r":0.39},{"t":19.9,"r":0.4},{"t":20.1,"r":0.42},{"t":20.75,"r":0.43},{"t":21.55,"r":0.44},{"t":21.8,"r":0.46},{"t":22,"r":0.49},{"t":22.4,"r":0.51},{"t":22.5,"r":0.55},{"t":22.8,"r":0.56},{"t":22.9,"r":0.62},{"t":23,"r":0.67},{"t":23.1,"r":0.72},{"t":23.3,"r":0.74},{"t":23.45,"r":0.79},{"t":23.5,"r":0.82},{"t":23.7,"r":0.85},{"t":23.8,"r":0.92},{"t":23.9,"r":1},{"t":23.96,"r":1}
],
"station":[{"t":0,"r":0},{"t":23.4,"r":0}],
"arc":[{"x":1309,"y":49,"x2":1317,"y2":40,"c":0},{"x":1317,"y":40,"x2":1326,"y2":32,"c":1},{"x":1326,"y":32,"x2":1336,"y2":26,"c":2},{"x":1336,"y":26,"x2":1347,"y2":21,"c":3},{"x":1347,"y":21,"x2":1358,"y2":19,"c":4},{"x":1358,"y":19,"x2":1370,"y2":18,"c":5},{"x":1370,"y":18,"x2":1382,"y2":18,"c":6},{"x":1382,"y":18,"x2":1394,"y2":20,"c":7},{"x":1394,"y":20,"x2":1406,"y2":23,"c":8},{"x":1406,"y":23,"x2":1418,"y2":27,"c":9},{"x":1418,"y":27,"x2":1430,"y2":32,"c":10},{"x":1430,"y":32,"x2":1442,"y2":39,"c":10},{"x":1442,"y":39,"x2":1454,"y2":49,"c":10}],
"actris":[{"x":1310,"l":"A"},{"x":1341,"l":"C"},{"x":1372,"l":"T"},{"x":1403,"l":"R"},{"x":1427,"l":"I"},{"x":1450,"l":"S"}]
},
"bounds":"flush",
"align":"each",
"columns":5,
"spacing":{"row":81.5,"column":18},
"resolve":{"scale":{"color":"independent"}},
"concat":[
{"width":598,"height":39,"view":{"stroke":null},"data":{"values":[{}]},
"layer":[
{"mark":{"type":"text","fontSize":22.2,"font":"DejaVu Sans","color":"black"},"encoding":{"x":{"datum":803,"scale":{"domain":[93,691],"nice":false},"axis":null},"y":{"datum":29,"scale":{"domain":[39,0],"nice":false},"axis":null},"text":{"value":"Measurement site: Meteorological Observatory Lindenberg (52.209N, 14.122E, 104m)"}}},
{"mark":{"type":"text","fontSize":22.2,"font":"DejaVu Sans","color":"black"},"encoding":{"x":{"datum":803},"y":{"datum":52},"text":{"value":"09-08-2026"}}},
{"data":{"name":"arc"},"mark":{"type":"rule","strokeWidth":2.5},"encoding":{"x":{"field":"x","type":"quantitative"},"y":{"field":"y","type":"quantitative"},"x2":{"field":"x2"},"y2":{"field":"y2"},"color":{"field":"c","type":"quantitative","legend":null,"scale":{"domain":[0,3,5,8,10],"range":["#7cc4c0","#3a9aa4","#1f7a8c","#1c3a5c","#141a46"]}}}},
{"mark":{"type":"rule","strokeWidth":2.5,"color":"#141a46"},"encoding":{"x":{"datum":1427},"y":{"datum":3},"y2":{"datum":54}}},
{"data":{"name":"actris"},"mark":{"type":"text","fontSize":29,"font":"Open Sans","fontWeight":600,"color":"#141a46"},"encoding":{"x":{"field":"x","type":"quantitative"},"y":{"datum":68},"text":{"field":"l"}}},
{"mark":{"type":"text","fontSize":16,"font":"DejaVu Sans","color":"#262b4a"},"encoding":{"x":{"datum":1379},"y":{"datum":93},"text":{"value":"CCRES"}}}
]},
{"width":18,"height":39,"view":{"stroke":null},"data":{"values":[{}]},"mark":{"type":"point","opacity":0}},
{"width":125.5,"height":39,"view":{"stroke":null},"data":{"values":[{}]},"mark":{"type":"point","opacity":0}},
{"width":596,"height":39,"view":{"stroke":null},"data":{"values":[{}]},"mark":{"type":"point","opacity":0}},
{"width":18,"height":39,"view":{"stroke":null},"data":{"values":[{}]},"mark":{"type":"point","opacity":0}},

{"width":598,"height":216,"title":{"text":"DCR - RPG-Radiometer Physics RPG-FMCW-94","offset":-3},"resolve":{"axis":{"x":"independent","y":"independent"}},
"layer":[
{"data":{"name":"base"},"transform":[{"filter":"datum.z>-47.7"}],"mark":{"type":"rule","strokeDash":[1.5,1,1,2,2,1.2]},"encoding":{"x":{"field":"t","type":"quantitative","scale":{"domain":[0,24],"nice":false},"axis":null},"x2":{"field":"u"},"y":{"field":"m","type":"quantitative","scale":{"domain":[0,2500],"nice":false},"axis":null},"size":{"field":"h","type":"quantitative","legend":null,"scale":{"domain":[0,2500],"range":[0,216]}},"color":{"field":"z","type":"quantitative","legend":null,"scale":{"domain":[-50,-34,-30,-25,-16.5,-6.5,2.5,11,17,20],"range":["#dcdcdc","#0000ff","#0000cc","#008b8b","#00ff00","#ffff00","#ff9000","#ff0000","#b00040","#800080"]}}}},
{"data":{"name":"base"},"transform":[{"filter":"datum.z>-47.7"}],"mark":{"type":"rule","strokeDash":[1,3,1.5,2.5]},"encoding":{"x":{"field":"t","type":"quantitative","axis":null},"x2":{"field":"u"},"y":{"field":"m","type":"quantitative","axis":null},"size":{"field":"h","type":"quantitative","legend":null},"color":{"field":"z","type":"quantitative","legend":null}}},
{"data":{"name":"base"},"transform":[{"filter":"datum.z<=-47.7"}],"mark":{"type":"rule","strokeDash":[1.2,3.5,1,5,1.5,4]},"encoding":{"x":{"field":"t","type":"quantitative","axis":null},"x2":{"field":"u"},"y":{"field":"m","type":"quantitative","axis":null},"size":{"field":"h","type":"quantitative","legend":null},"color":{"field":"z","type":"quantitative","legend":null}}},
{"data":{"name":"radar"},"mark":{"type":"rule","strokeWidth":1.4,"strokeDash":[7,1,4,1,10,2,3,1]},"encoding":{"x":{"field":"t","type":"quantitative","axis":null},"y":{"field":"a","type":"quantitative","axis":null},"y2":{"field":"b"},"color":{"field":"z","type":"quantitative","legend":null}}},
{"data":{"values":[{"t":0,"y":0}]},"mark":{"type":"point","opacity":0},"encoding":{"x":{"field":"t","type":"quantitative","axis":{"values":[0,3,6,9,12,15,18,21],"labels":false,"grid":true,"gridOpacity":{"condition":{"test":"datum.value==0","value":0},"value":1},"title":null,"zindex":1}},"y":{"field":"y","type":"quantitative","axis":{"values":[0,500,1000,1500,2000,2500],"grid":true,"gridOpacity":{"condition":{"test":"datum.value==0||datum.value==2500","value":0},"value":1},"title":"Altitude [m AGL]","titlePadding":9,"zindex":1}}}},
{"data":{"values":[{"t":0,"y":0}]},"mark":{"type":"point","opacity":0},"encoding":{"x":{"field":"t","type":"quantitative","axis":{"values":[1,2,4,5,7,8,10,11,13,14,16,17,19,20,22,23],"labels":false,"title":null,"tickSize":3}},"y":{"field":"y","type":"quantitative","axis":{"values":[100,200,300,400,600,700,800,900,1100,1200,1300,1400,1600,1700,1800,1900,2100,2200,2300,2400],"labels":false,"title":null,"tickSize":3}}}}
]},
{"width":18,"height":216,"view":{"stroke":null},
"layer":[
{"data":{"values":[{"z":-50,"z2":20}]},"mark":{"type":"rect","stroke":"#333333","strokeWidth":0.7,"color":{"gradient":"linear","x1":0,"y1":1,"x2":0,"y2":0,"stops":[{"offset":0,"color":"#dcdcdc"},{"offset":0.229,"color":"#0000ff"},{"offset":0.286,"color":"#0000cc"},{"offset":0.357,"color":"#008b8b"},{"offset":0.479,"color":"#00ff00"},{"offset":0.621,"color":"#ffff00"},{"offset":0.75,"color":"#ff9000"},{"offset":0.871,"color":"#ff0000"},{"offset":0.957,"color":"#b00040"},{"offset":1,"color":"#800080"}]}},"encoding":{"y":{"field":"z","type":"quantitative","scale":{"domain":[-53.6,24.3],"nice":false},"axis":{"values":[-50,-30,-10,10],"title":"Zh [dBZ]","titleFontSize":16.8,"orient":"right","titleAngle":270,"titleBaseline":"top","titlePadding":9}},"y2":{"field":"z2"}}},
{"data":{"values":[{"x":0,"y":-50,"y0":-50},{"x":0.5,"y":-53.6,"y0":-50},{"x":1,"y":-50,"y0":-50}]},"mark":{"type":"area","color":"#dcdcdc","stroke":"#333333","strokeWidth":0.7},"encoding":{"x":{"field":"x","type":"quantitative","scale":{"domain":[0,1]},"axis":null},"y":{"field":"y","type":"quantitative"},"y2":{"field":"y0"}}},
{"data":{"values":[{"x":0,"y":20,"y0":20},{"x":0.5,"y":24.3,"y0":20},{"x":1,"y":20,"y0":20}]},"mark":{"type":"area","color":"#800080","stroke":"#333333","strokeWidth":0.7},"encoding":{"x":{"field":"x","type":"quantitative","axis":null},"y":{"field":"y","type":"quantitative"},"y2":{"field":"y0"}}}
]},
{"width":125.5,"height":216,"view":{"stroke":null},"data":{"values":[{}]},"mark":{"type":"point","opacity":0}},
{"width":596,"height":216,"title":{"text":"DCR - RPG-Radiometer Physics RPG-FMCW-94","offset":-3},"resolve":{"axis":{"x":"independent","y":"independent"}},
"layer":[
{"data":{"name":"base"},"transform":[{"filter":"datum.z>-47.7"}],"mark":{"type":"rule","strokeDash":[1.5,1,1,2,2,1.2]},"encoding":{"x":{"field":"t","type":"quantitative","scale":{"domain":[0,24],"nice":false},"axis":null},"x2":{"field":"u"},"y":{"field":"m","type":"quantitative","scale":{"domain":[0,2500],"nice":false},"axis":null},"size":{"field":"h","type":"quantitative","legend":null,"scale":{"domain":[0,2500],"range":[0,216]}},"color":{"field":"v","type":"quantitative","legend":null,"scale":{"domain":[-4,-2,0,2,4],"range":["#3b4cc0","#8db0fe","#dcdcdc","#f49a7b","#b40426"]}}}},
{"data":{"name":"base"},"transform":[{"filter":"datum.z>-47.7"}],"mark":{"type":"rule","strokeDash":[1,3,1.5,2.5]},"encoding":{"x":{"field":"t","type":"quantitative","axis":null},"x2":{"field":"u"},"y":{"field":"m","type":"quantitative","axis":null},"size":{"field":"h","type":"quantitative","legend":null},"color":{"field":"v","type":"quantitative","legend":null}}},
{"data":{"name":"base"},"transform":[{"filter":"datum.z<=-47.7"}],"mark":{"type":"rule","strokeDash":[1.2,3.5,1,5,1.5,4]},"encoding":{"x":{"field":"t","type":"quantitative","axis":null},"x2":{"field":"u"},"y":{"field":"m","type":"quantitative","axis":null},"size":{"field":"h","type":"quantitative","legend":null},"color":{"field":"v","type":"quantitative","legend":null}}},
{"data":{"name":"radar"},"mark":{"type":"rule","strokeWidth":1.4,"strokeDash":[7,1,4,1,10,2,3,1]},"encoding":{"x":{"field":"t","type":"quantitative","axis":null},"y":{"field":"a","type":"quantitative","axis":null},"y2":{"field":"b"},"color":{"field":"v","type":"quantitative","legend":null}}},
{"data":{"values":[{"t":0,"y":0}]},"mark":{"type":"point","opacity":0},"encoding":{"x":{"field":"t","type":"quantitative","axis":{"values":[0,3,6,9,12,15,18,21],"labels":false,"grid":true,"gridOpacity":{"condition":{"test":"datum.value==0","value":0},"value":1},"title":null,"zindex":1}},"y":{"field":"y","type":"quantitative","axis":{"values":[0,500,1000,1500,2000,2500],"grid":true,"gridOpacity":{"condition":{"test":"datum.value==0||datum.value==2500","value":0},"value":1},"title":"Altitude [m AGL]","titlePadding":8,"zindex":1}}}},
{"data":{"values":[{"t":0,"y":0}]},"mark":{"type":"point","opacity":0},"encoding":{"x":{"field":"t","type":"quantitative","axis":{"values":[1,2,4,5,7,8,10,11,13,14,16,17,19,20,22,23],"labels":false,"title":null,"tickSize":3}},"y":{"field":"y","type":"quantitative","axis":{"values":[100,200,300,400,600,700,800,900,1100,1200,1300,1400,1600,1700,1800,1900,2100,2200,2300,2400],"labels":false,"title":null,"tickSize":3}}}}
]},
{"width":18,"height":216,"view":{"stroke":null},
"layer":[
{"data":{"values":[{"z":-4,"z2":4}]},"mark":{"type":"rect","stroke":"#333333","strokeWidth":0.7,"color":{"gradient":"linear","x1":0,"y1":1,"x2":0,"y2":0,"stops":[{"offset":0,"color":"#3b4cc0"},{"offset":0.25,"color":"#8db0fe"},{"offset":0.5,"color":"#dcdcdc"},{"offset":0.75,"color":"#f49a7b"},{"offset":1,"color":"#b40426"}]}},"encoding":{"y":{"field":"z","type":"quantitative","scale":{"domain":[-4.41,4.49],"nice":false},"axis":{"values":[-4,-2,0,2,4],"title":"Velocity [m.s⁻¹]","titleFontSize":17.7,"orient":"right","titleAngle":270,"titleBaseline":"top","titlePadding":12}},"y2":{"field":"z2"}}},
{"data":{"values":[{"x":0,"y":-4,"y0":-4},{"x":0.5,"y":-4.41,"y0":-4},{"x":1,"y":-4,"y0":-4}]},"mark":{"type":"area","color":"#3b4cc0","stroke":"#333333","strokeWidth":0.7},"encoding":{"x":{"field":"x","type":"quantitative","scale":{"domain":[0,1]},"axis":null},"y":{"field":"y","type":"quantitative"},"y2":{"field":"y0"}}},
{"data":{"values":[{"x":0,"y":4,"y0":4},{"x":0.5,"y":4.49,"y0":4},{"x":1,"y":4,"y0":4}]},"mark":{"type":"area","color":"#b40426","stroke":"#333333","strokeWidth":0.7},"encoding":{"x":{"field":"x","type":"quantitative","axis":null},"y":{"field":"y","type":"quantitative"},"y2":{"field":"y0"}}}
]},

{"width":598,"height":216,"title":{"text":"weather station","offset":0},"resolve":{"scale":{"y":"independent","color":"independent"},"axis":{"x":"independent","y":"independent"}},
"layer":[
{"data":{"values":[{"t":0,"y":16}]},"mark":{"type":"point","opacity":0},"encoding":{"x":{"field":"t","type":"quantitative","scale":{"domain":[0,24],"nice":false},"axis":{"values":[0,3,6,9,12,15,18,21],"labels":false,"grid":true,"gridOpacity":{"condition":{"test":"datum.value==0","value":0},"value":1},"title":null}},"y":{"field":"y","type":"quantitative","scale":{"domain":[14.67,32.25],"nice":false,"zero":false},"axis":{"values":[16,18,20,22,24,26,28,30,32],"grid":true,"title":"Temperature [°C]","titleFontSize":19.7,"titlePadding":32}}}},
{"data":{"values":[{"t":0,"y":16}]},"mark":{"type":"point","opacity":0},"encoding":{"x":{"field":"t","type":"quantitative","axis":{"values":[1,2,4,5,7,8,10,11,13,14,16,17,19,20,22,23],"labels":false,"title":null,"tickSize":3}},"y":{"field":"y","type":"quantitative","scale":{"domain":[14.67,32.25],"nice":false,"zero":false},"axis":{"values":[15,17,19,21,23,25,27,29,31],"labels":false,"title":null,"tickSize":3}}}},
{"data":{"values":[{"t":0,"y":30}]},"mark":{"type":"point","opacity":0},"encoding":{"x":{"field":"t","type":"quantitative","axis":null},"y":{"field":"y","type":"quantitative","scale":{"domain":[23.15,69.2],"nice":false,"zero":false},"axis":{"orient":"right","values":[24,26,27,28,29,31,32,33,34,36,37,38,39,41,42,43,44,46,47,48,49,51,52,53,54,56,57,58,59,61,62,63,64,66,67,68,69],"labels":false,"title":null,"tickSize":3}}}},
{"data":{"name":"met"},"mark":{"type":"line","strokeWidth":2.5},"encoding":{"x":{"field":"t","type":"quantitative","axis":null},"y":{"field":"ta","type":"quantitative","scale":{"domain":[14.67,32.25],"nice":false,"zero":false},"axis":null},"color":{"datum":"ta","scale":{"range":["#0aa5ff"]},"legend":{"legendX":10,"legendY":9}}}},
{"data":{"name":"hum"},"mark":{"type":"line","strokeWidth":2.5},"encoding":{"x":{"field":"t","type":"quantitative","axis":null},"y":{"field":"rh","type":"quantitative","scale":{"domain":[23.15,69.2],"nice":false,"zero":false},"axis":{"orient":"right","values":[25,30,35,40,45,50,55,60,65],"title":"Relative Humidity [%]","titleFontSize":19.5,"titleAngle":270,"titleBaseline":"top","titlePadding":8}},"color":{"datum":"rh","scale":{"range":["#ffa500"]},"legend":{"legendX":504,"legendY":17}}}}
]},
{"width":18,"height":216,"view":{"stroke":null},"data":{"values":[{}]},"mark":{"type":"point","opacity":0}},
{"width":125.5,"height":216,"view":{"stroke":null},"data":{"values":[{}]},"mark":{"type":"point","opacity":0}},
{"width":596,"height":216,"title":{"text":"weather station","offset":-3},"resolve":{"scale":{"y":"independent","color":"independent"},"axis":{"x":"independent","y":"independent"}},
"layer":[
{"data":{"values":[{"t":0,"y":2}]},"mark":{"type":"point","opacity":0},"encoding":{"x":{"field":"t","type":"quantitative","scale":{"domain":[0,24],"nice":false},"axis":{"values":[0,3,6,9,12,15,18,21],"labelExpr":"(datum.value<10?'0':'')+datum.value+':00'","grid":true,"gridOpacity":{"condition":{"test":"datum.value==0","value":0},"value":1},"title":"Time [UTC]","titleFontSize":19.5,"titlePadding":9}},"y":{"field":"y","type":"quantitative","scale":{"domain":[1.15,4.58],"nice":false,"zero":false},"axis":{"values":[2,4],"grid":true,"title":"Wind Speed [m.s⁻¹]","titleFontSize":20,"titlePadding":44}}}},
{"data":{"values":[{"t":0,"y":2}]},"mark":{"type":"point","opacity":0},"encoding":{"x":{"field":"t","type":"quantitative","axis":{"values":[1,2,4,5,7,8,10,11,13,14,16,17,19,20,22,23],"labels":false,"title":null,"tickSize":3}},"y":{"field":"y","type":"quantitative","scale":{"domain":[0,360],"nice":false},"axis":{"orient":"right","values":[20,40,80,100,140,160,200,220,260,280,320,340],"labels":false,"title":null,"tickSize":3}}}},
{"data":{"name":"wd"},"mark":{"type":"point","filled":true,"size":22,"opacity":1},"encoding":{"x":{"field":"t","type":"quantitative","axis":null},"y":{"field":"d","type":"quantitative","scale":{"domain":[0,360],"nice":false},"axis":{"orient":"right","values":[0,60,120,180,240,300,360],"title":"Wind Direction [°]","titleFontSize":19.4,"titleAngle":270,"titleBaseline":"top","titlePadding":10}},"color":{"datum":"Wind Direction","scale":{"range":["#008000"]},"legend":{"legendX":407,"legendY":9,"symbolType":"circle","symbolSize":22,"labelOffset":31,"padding":7,"symbolOpacity":1}}}},
{"data":{"name":"ws"},"mark":{"type":"line","strokeWidth":2.5},"encoding":{"x":{"field":"t","type":"quantitative","axis":null},"y":{"field":"s","type":"quantitative","scale":{"domain":[1.15,4.58],"nice":false,"zero":false},"axis":null},"color":{"datum":"Wind Speed","scale":{"range":["#ff0000"]},"legend":{"legendX":8,"legendY":9}}}}
]},
{"width":18,"height":216,"view":{"stroke":null},"data":{"values":[{}]},"mark":{"type":"point","opacity":0}},

{"width":598,"height":216,"title":{"text":"Disdrometer and Weather station","offset":-8},"resolve":{"axis":{"x":"independent","y":"independent"}},
"layer":[
{"data":{"values":[{"t":0,"r":0}]},"mark":{"type":"point","opacity":0},"encoding":{"x":{"field":"t","type":"quantitative","scale":{"domain":[0,24],"nice":false},"axis":{"values":[0,3,6,9,12,15,18,21],"labelExpr":"(datum.value<10?'0':'')+datum.value+':00'","grid":true,"gridOpacity":{"condition":{"test":"datum.value==0","value":0},"value":1},"title":"Time [UTC]","titleFontSize":19.5,"titlePadding":9}},"y":{"field":"r","type":"quantitative","scale":{"domain":[-0.05,1.04],"nice":false},"axis":{"values":[0],"grid":true,"title":"Cumulative rainfall [mm]","titleFontSize":19.5,"titlePadding":39}}}},
{"data":{"values":[{"t":0,"r":0}]},"mark":{"type":"point","opacity":0},"encoding":{"x":{"field":"t","type":"quantitative","axis":{"values":[1,2,4,5,7,8,10,11,13,14,16,17,19,20,22,23],"labels":false,"title":null,"tickSize":3}},"y":{"field":"r","type":"quantitative","axis":null}}},
{"data":{"name":"rain"},"mark":{"type":"line","strokeWidth":2.8,"interpolate":"step-after"},"encoding":{"x":{"field":"t","type":"quantitative","axis":null},"y":{"field":"r","type":"quantitative","axis":null},"color":{"datum":"Thies Clima LNM","scale":{"domain":["Thies Clima LNM","Weather Station"],"range":["#f08a60","#9a9a9a"]},"legend":{"legendX":391,"legendY":150,"clipHeight":22}}}},
{"data":{"name":"station"},"mark":{"type":"line","strokeWidth":3},"encoding":{"x":{"field":"t","type":"quantitative","axis":null},"y":{"field":"r","type":"quantitative","axis":null},"color":{"datum":"Weather Station"}}}
]},
{"width":18,"height":216,"view":{"stroke":null},"data":{"values":[{}]},"mark":{"type":"point","opacity":0}},
{"width":125.5,"height":216,"view":{"stroke":null},"data":{"values":[{}]},"mark":{"type":"point","opacity":0}},
{"width":596,"height":216,"title":{"text":"Relationship disdrometer fall speed / drop size","offset":-2},"resolve":{"axis":{"x":"independent","y":"independent"}},
"layer":[
{"data":{"values":[{"d":0,"f":0}]},"mark":{"type":"point","opacity":0},"encoding":{"x":{"field":"d","type":"quantitative","scale":{"domain":[0,5],"nice":false},"axis":{"values":[0,1,2,3,4,5],"grid":true,"gridOpacity":{"condition":{"test":"datum.value==0||datum.value==5","value":0},"value":1},"title":"Diameter [mm]","titleFontSize":19.3,"titlePadding":10}},"y":{"field":"f","type":"quantitative","scale":{"domain":[0,10],"nice":false},"axis":{"values":[0,2,4,6,8,10],"grid":true,"gridOpacity":{"condition":{"test":"datum.value==0||datum.value==10","value":0},"value":1},"title":"Fall speed [m.s⁻¹]","titleFontSize":20,"titlePadding":34}}}},
{"data":{"values":[{"d":0,"f":0}]},"mark":{"type":"point","opacity":0},"encoding":{"x":{"field":"d","type":"quantitative","axis":{"values":[0.5,1.5,2.5,3.5,4.5],"labels":false,"title":null,"tickSize":3,"format":".1f"}},"y":{"field":"f","type":"quantitative","axis":{"values":[1,3,5,7,9],"labels":false,"title":null,"tickSize":3}}}},
{"data":{"values":[{"d":2,"f":4,"note":"No fit"}]},"mark":{"type":"text","align":"left","baseline":"alphabetic","fontSize":18.5,"fontStyle":"italic","font":"DejaVu Sans"},"encoding":{"x":{"field":"d","type":"quantitative","axis":null},"y":{"field":"f","type":"quantitative","axis":null},"text":{"field":"note"}}}
]},
{"width":18,"height":216,"view":{"stroke":null},"data":{"values":[{}]},"mark":{"type":"point","opacity":0}}
]
}
